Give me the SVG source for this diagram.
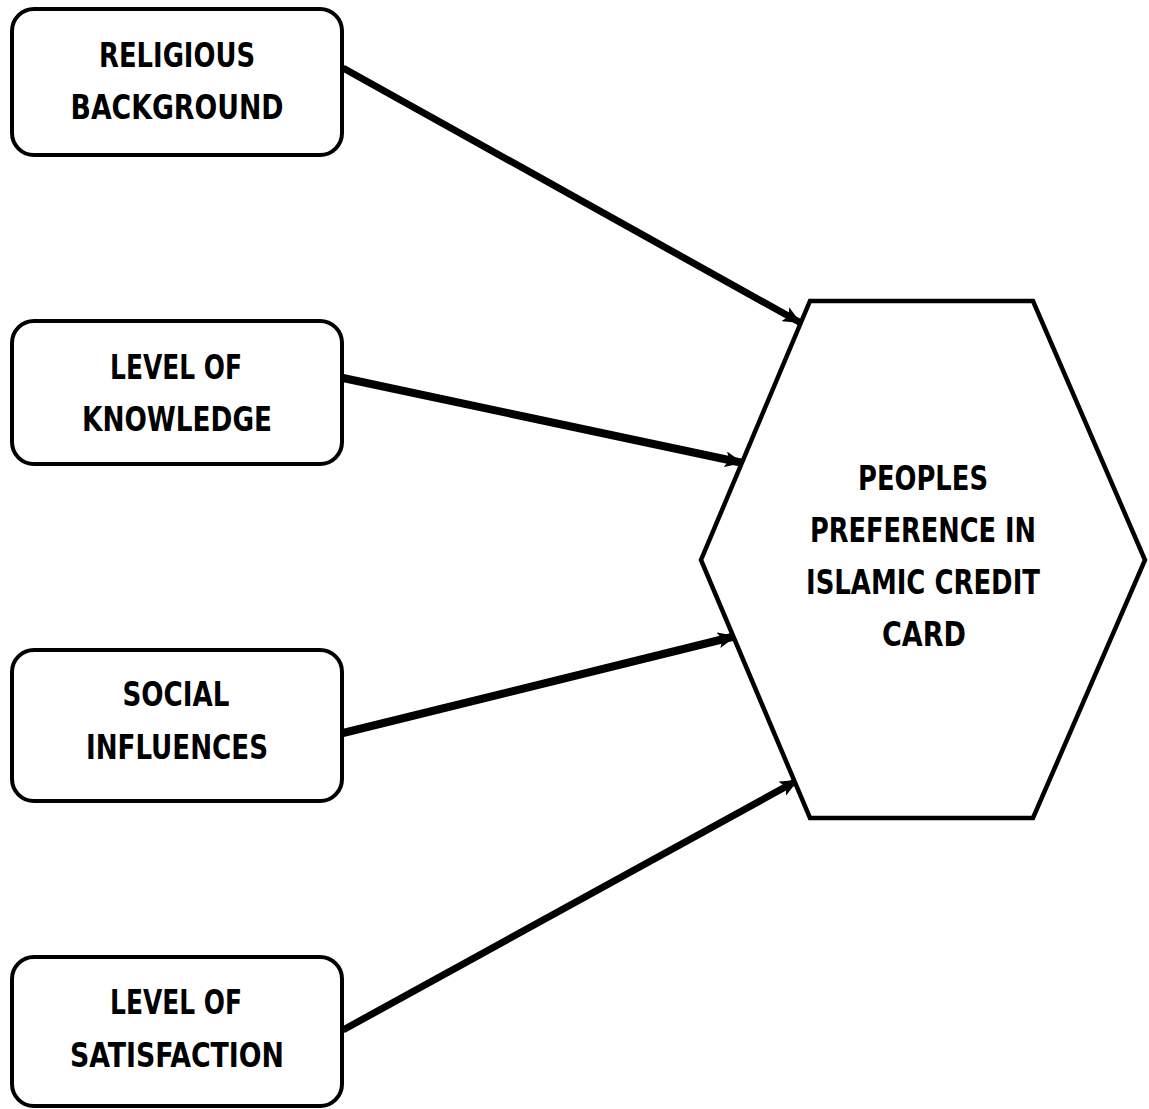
<svg xmlns="http://www.w3.org/2000/svg" width="1149" height="1109" viewBox="0 0 1149 1109">
<style>
.box{fill:#fff;stroke:#000;stroke-width:4}
.hex{fill:#fff;stroke:#000;stroke-width:4.5;stroke-linejoin:miter}
.t{font-family:"DejaVu Sans Condensed","Liberation Sans Narrow","Liberation Sans",sans-serif;font-weight:bold;font-size:34px;text-anchor:middle;fill:#000}
.c{stroke:#000;fill:none}
</style>
<defs>
<marker id="ah" markerUnits="userSpaceOnUse" viewBox="0 0 18 16" refX="18" refY="8" markerWidth="18" markerHeight="16" orient="auto">
<path d="M0,0 L18,8 L0,16 L4,8 Z" fill="#000"/>
</marker>
</defs>
<rect width="1149" height="1109" fill="#fff"/>
<g id="connectors">
<line class="c" x1="343" y1="68" x2="801" y2="323" stroke-width="7" marker-end="url(#ah)"/>
<line class="c" x1="343" y1="378" x2="743" y2="463" stroke-width="8" marker-end="url(#ah)"/>
<line class="c" x1="343" y1="733" x2="736" y2="636" stroke-width="8" marker-end="url(#ah)"/>
<line class="c" x1="343" y1="1030" x2="798" y2="780" stroke-width="7" marker-end="url(#ah)"/>
</g>
<g id="religious">
<rect class="box" x="12" y="9" width="330" height="146" rx="22"/>
<text class="t" x="177" y="67" textLength="156" lengthAdjust="spacingAndGlyphs">RELIGIOUS</text>
<text class="t" x="177" y="119" textLength="213" lengthAdjust="spacingAndGlyphs">BACKGROUND</text>
</g>
<g id="knowledge">
<rect class="box" x="12" y="321" width="330" height="143" rx="22"/>
<text class="t" x="176" y="379" textLength="132" lengthAdjust="spacingAndGlyphs">LEVEL OF</text>
<text class="t" x="177" y="431" textLength="190" lengthAdjust="spacingAndGlyphs">KNOWLEDGE</text>
</g>
<g id="social">
<rect class="box" x="12" y="650" width="330" height="151" rx="22"/>
<text class="t" x="176" y="706" textLength="107" lengthAdjust="spacingAndGlyphs">SOCIAL</text>
<text class="t" x="177" y="759" textLength="182" lengthAdjust="spacingAndGlyphs">INFLUENCES</text>
</g>
<g id="satisfaction">
<rect class="box" x="12" y="957" width="330" height="149" rx="22"/>
<text class="t" x="176" y="1014" textLength="132" lengthAdjust="spacingAndGlyphs">LEVEL OF</text>
<text class="t" x="177" y="1067" textLength="214" lengthAdjust="spacingAndGlyphs">SATISFACTION</text>
</g>
<g id="preference">
<polygon class="hex" points="810,301 1033,301 1145,560 1033,818 810,818 701,560"/>
<text class="t" x="923" y="490" textLength="130" lengthAdjust="spacingAndGlyphs">PEOPLES</text>
<text class="t" x="923" y="542" textLength="226" lengthAdjust="spacingAndGlyphs">PREFERENCE IN</text>
<text class="t" x="923" y="594" textLength="234" lengthAdjust="spacingAndGlyphs">ISLAMIC CREDIT</text>
<text class="t" x="924" y="646" textLength="84" lengthAdjust="spacingAndGlyphs">CARD</text>
</g>
</svg>
